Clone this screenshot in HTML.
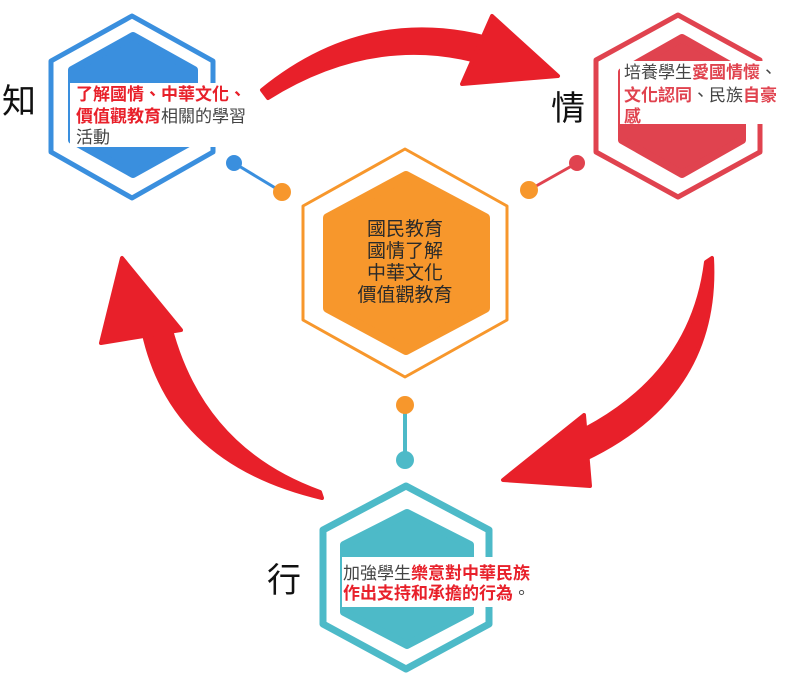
<!DOCTYPE html>
<html><head><meta charset="utf-8"><style>
html,body{margin:0;padding:0;background:#fff;}
svg{display:block;}
.t{font-family:"Liberation Sans","Noto Sans CJK TC",sans-serif;}
</style></head><body>
<svg width="798" height="679" viewBox="0 0 798 679" xmlns="http://www.w3.org/2000/svg">
<!-- arrows -->
<g fill="#e8202a" stroke="#e8202a" stroke-linejoin="round" stroke-width="4">
 <path d="M262,90 Q380,-6 525,50 L515,74 Q390,22 268,98 Z"/>
 <path d="M492,16 L558,76 L462,84 Z"/>
 <path d="M712,258 Q720,405 565,468 L548,446 Q690,390 706,262 Z"/>
 <path d="M584,415 L503,480 L590,486 Z"/>
 <path d="M142,325 Q168,462 322,498 L320,492 Q198,448 168,318 Z"/>
 <path d="M122,258 L101,343 L181,330 Z"/>
</g>
<!-- connectors -->
<line x1="234" y1="163" x2="282" y2="192" stroke="#3a8fde" stroke-width="3"/>
<line x1="577" y1="163" x2="529" y2="190" stroke="#e0434f" stroke-width="3"/>
<line x1="405" y1="405" x2="405" y2="460" stroke="#4dbac8" stroke-width="4"/>
<circle cx="234" cy="163" r="8" fill="#3a8fde"/>
<circle cx="282" cy="192" r="9" fill="#f7972c"/>
<circle cx="577" cy="163" r="8" fill="#e0434f"/>
<circle cx="529" cy="190" r="9" fill="#f7972c"/>
<circle cx="405" cy="405" r="9" fill="#f7972c"/>
<circle cx="405" cy="460" r="9" fill="#4dbac8"/>
<!-- blue hex -->
<polygon points="132,16 213,61 213,152 132,198 51,152 51,61" fill="none" stroke="#3a8fde" stroke-width="5" stroke-linejoin="round"/>
<polygon points="133,36 194,70 194,140 133,174 72,140 72,70" fill="#3a8fde" stroke="#3a8fde" stroke-width="8" stroke-linejoin="round"/>
<rect x="70" y="83" width="184" height="64" fill="#fff"/>
<!-- red hex -->
<polygon points="678,15 760,60 760,152 678,197 596,152 596,60" fill="none" stroke="#e0434f" stroke-width="5" stroke-linejoin="round"/>
<polygon points="682,38 742,72 742,140 682,174 622,140 622,72" fill="#e0434f" stroke="#e0434f" stroke-width="8" stroke-linejoin="round"/>
<rect x="620" y="61" width="168" height="63" fill="#fff"/>
<!-- teal hex -->
<polygon points="406,486 489,530 489,624 406,669 323,624 323,530" fill="none" stroke="#4dbac8" stroke-width="7" stroke-linejoin="round"/>
<polygon points="407,513 470,545 470,612 407,645 344,612 344,545" fill="#4dbac8" stroke="#4dbac8" stroke-width="8" stroke-linejoin="round"/>
<rect x="342" y="557" width="192" height="50" fill="#fff"/>
<!-- center hex -->
<polygon points="405,149 507,206 507,320 405,377 303,320 303,206" fill="none" stroke="#f7972c" stroke-width="3" stroke-linejoin="round"/>
<polygon points="406,176 485,218 485,308 406,350 328,308 328,218" fill="#f7972c" stroke="#f7972c" stroke-width="10" stroke-linejoin="round"/>
<!-- text -->
<g class="t">
 <text x="2" y="113" font-size="34" fill="#111">知</text>
 <text x="551" y="120" font-size="34" fill="#111">情</text>
 <text x="267" y="592" font-size="34" fill="#111">行</text>
 <g font-size="17">
  <text x="76" y="100"><tspan fill="#e8202a" font-weight="bold">了解國情、中華文化、</tspan></text>
  <text x="76" y="122"><tspan fill="#e8202a" font-weight="bold">價值觀教育</tspan><tspan fill="#444">相關的學習</tspan></text>
  <text x="76" y="143" fill="#444">活動</text>
  <text x="624" y="78"><tspan fill="#444">培養學生</tspan><tspan fill="#e0434f" font-weight="bold">愛國情懷</tspan><tspan fill="#444">、</tspan></text>
  <text x="624" y="101"><tspan fill="#e0434f" font-weight="bold">文化認同</tspan><tspan fill="#444">、民族</tspan><tspan fill="#e0434f" font-weight="bold">自豪</tspan></text>
  <text x="624" y="122" fill="#e0434f" font-weight="bold">感</text>
  <text x="343" y="579"><tspan fill="#444">加強學生</tspan><tspan fill="#e8202a" font-weight="bold">樂意對中華民族</tspan></text>
  <text x="343" y="599"><tspan fill="#e8202a" font-weight="bold">作出支持和承擔的行為</tspan><tspan fill="#444">。</tspan></text>
 </g>
 <g font-size="19" fill="#2a2a2a" text-anchor="middle">
  <text x="405" y="235">國民教育</text>
  <text x="405" y="257">國情了解</text>
  <text x="405" y="279">中華文化</text>
  <text x="405" y="301">價值觀教育</text>
 </g>
</g>
</svg>
</body></html>
